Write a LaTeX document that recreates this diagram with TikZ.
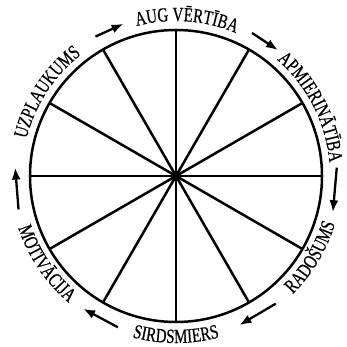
\documentclass[tikz,border=0pt]{standalone}
\usepackage{fontspec}
\newfontfamily\arcfont[FakeBold=0.6]{Liberation Serif}
\newcommand\lblfont{\arcfont\fontsize{20}{20}\selectfont}
\usetikzlibrary{arrows.meta}
\tikzset{
  wheel/.style={line width=2.5pt, black},
  flow/.style={line width=2.3pt, -{Latex[length=12pt,width=9pt]}},
  letter/.style={anchor=base, inner sep=0pt, font=\lblfont},
}
\newdimen\lblacc
\newdimen\lblpos
\def\lblem{15}% 20pt x 0.75
\makeatletter
\def\strip#1{\strip@pt\dimexpr#1\relax}
\makeatother
% #1 name, #2 centre angle, #3 baseline radius (pt), #4 1 = clockwise, -1 = counterclockwise, #5 letter/width(em) pairs
\newcommand\arclabel[5]{%
  \global\lblacc=0pt
  \foreach \ch/\w in {#5}{\global\advance\lblacc by \w pt}%
  \global\lblpos=0pt
  \foreach \ch/\w [count=\k] in {#5}{%
    \pgfmathsetmacro\lblmid{#2 + (#4)*(\lblem*(\strip{\the\lblacc}/2 - \strip{\the\lblpos} - \w/2))/#3*180/pi}%
    \pgfmathsetmacro\lblrot{\lblmid - (#4)*90}%
    \node[letter, name=#1-\k, rotate=\lblrot, xscale=0.75] at (\lblmid:#3pt) {\ch};
    \global\advance\lblpos by \w pt
  }%
}
\begin{document}
\begin{tikzpicture}
\useasboundingbox (-176pt,-171pt) rectangle (171pt,176pt);
\coordinate (C) at (0,0);
% wheel
\draw[wheel] (C) circle[radius=146pt];
\foreach \a in {0,30,...,150}{
  \coordinate (s\a) at (\a:146pt);
  \coordinate (t\a) at (\a+180:146pt);
  \draw[wheel] (s\a) -- (t\a);
}
\fill (C) circle[radius=4pt];
% labels, clockwise (letters outward)
\arclabel{aug}{86}{155}{1}{A/0.722,U/0.722,G/0.722,{}/0.25,V/0.722,Ē/0.611,R/0.667,T/0.611,Ī/0.333,B/0.667,A/0.722}
\arclabel{apm}{27}{154}{1}{A/0.722,P/0.556,M/0.889,I/0.333,E/0.611,R/0.667,I/0.333,N/0.722,Ā/0.722,T/0.611,Ī/0.333,B/0.667,A/0.722}
\arclabel{uzp}{147}{154}{1}{U/0.722,Z/0.611,P/0.556,L/0.611,A/0.722,U/0.722,K/0.722,U/0.722,M/0.889,S/0.556}
% labels, counterclockwise (letters inward)
\arclabel{rad}{-31}{166}{-1}{R/0.667,A/0.722,D/0.722,O/0.722,Š/0.556,U/0.722,M/0.889,S/0.556}
\arclabel{sir}{-90}{167}{-1}{S/0.556,I/0.333,R/0.667,D/0.722,S/0.556,M/0.889,I/0.333,E/0.611,R/0.667,S/0.556}
\arclabel{mot}{214}{166}{-1}{M/0.889,O/0.722,T/0.611,I/0.333,V/0.722,Ā/0.722,C/0.667,I/0.333,J/0.389,A/0.722}
% arrows
\coordinate (a1) at (120:161pt); \coordinate (b1) at (109:161pt);
\coordinate (a2) at (62:162pt);  \coordinate (b2) at (51:162pt);
\coordinate (a3) at (3:161pt);   \coordinate (b3) at (-13:161pt);
\coordinate (a4) at (-52:162pt); \coordinate (b4) at (-67:162pt);
\coordinate (a5) at (249:162pt); \coordinate (b5) at (235:162pt);
\coordinate (a6) at (192:161pt); \coordinate (b6) at (177:161pt);
\foreach \i in {1,...,6}{ \draw[flow] (a\i) -- (b\i); }
\end{tikzpicture}
\end{document}
